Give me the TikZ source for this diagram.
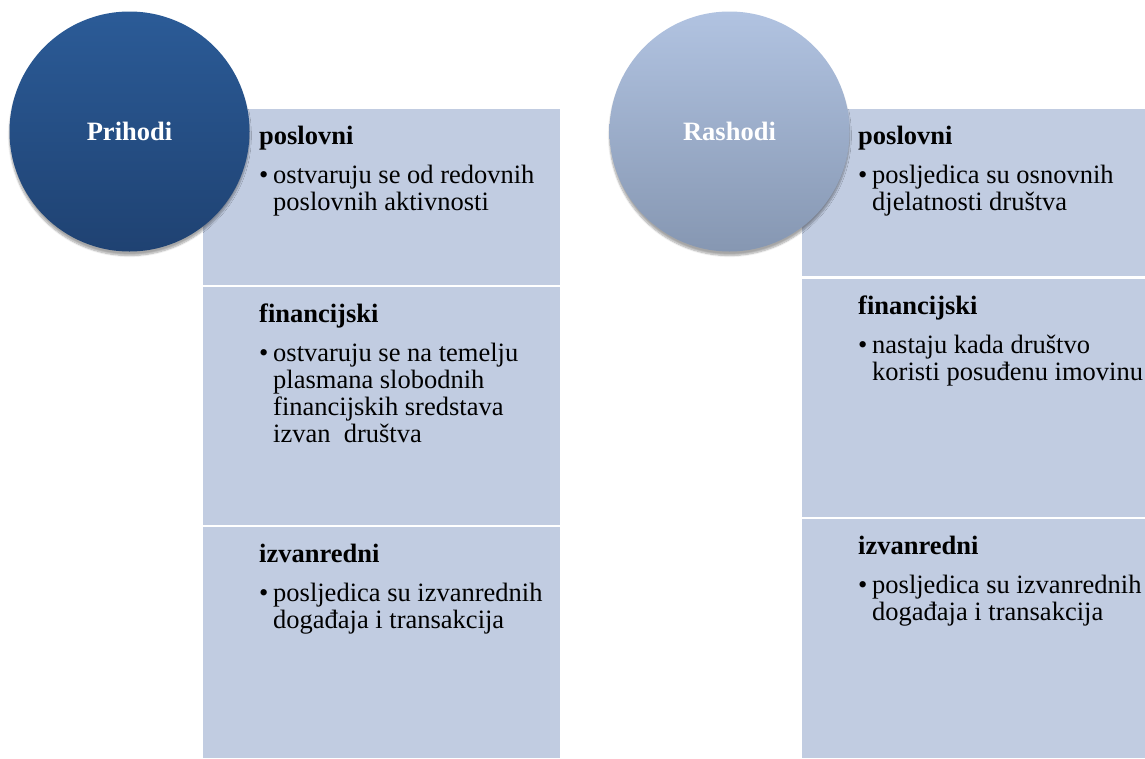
\documentclass[tikz,border=0pt]{standalone}
\usepackage{fontspec}
\setmainfont{Liberation Serif}
\usetikzlibrary{positioning,shadows.blur}
\definecolor{blokboja}{RGB}{193,204,225}
\definecolor{tamnogore}{RGB}{43,91,151}
\definecolor{tamnodolje}{RGB}{31,66,114}
\definecolor{svijetlogore}{RGB}{177,195,225}
\definecolor{svijetlodolje}{RGB}{134,151,178}
\newcommand{\velik}{\fontsize{26.5}{27}\selectfont}
\newcommand{\stavka}[1]{\makebox[14pt][l]{\textbullet}\begin{tabular}[t]{@{}l@{}}#1\end{tabular}}
\begin{document}
\begin{tikzpicture}[x=1pt,y=-1pt,
    blok/.style={fill=blokboja, inner sep=0pt, anchor=north west, minimum width=#1},
    krug/.style={circle, minimum size=240pt, inner sep=0pt, text=white, font=\bfseries\velik,
      blur shadow={shadow xshift=0pt, shadow yshift=-4pt, shadow blur steps=8, shadow opacity=35}},
    naslov/.style={anchor=base west, inner sep=0pt, font=\bfseries\velik, xshift=56pt, yshift=-35pt},
    tekst/.style={anchor=base west, inner sep=0pt, font=\velik, yshift=-39pt}]
  \useasboundingbox (0,0) rectangle (1145,758);

  % prihodi
  \node[blok=357pt, minimum height=176pt] (prihPosl) at (203,109) {};
  \node[blok=357pt, minimum height=238pt] (prihFin) at (203,287) {};
  \node[blok=357pt, minimum height=231pt] (prihIzv) at (203,527) {};
  \node[naslov] (prihPoslH) at (prihPosl.north west) {poslovni};
  \node[tekst] (prihPoslT) at (prihPoslH.base west) {\stavka{ostvaruju se od redovnih\\poslovnih aktivnosti}};
  \node[naslov] (prihFinH) at (prihFin.north west) {financijski};
  \node[tekst] (prihFinT) at (prihFinH.base west) {\stavka{ostvaruju se na temelju\\plasmana slobodnih\\financijskih sredstava\\izvan\ \ društva}};
  \node[naslov] (prihIzvH) at (prihIzv.north west) {izvanredni};
  \node[tekst] (prihIzvT) at (prihIzvH.base west) {\stavka{posljedica su izvanrednih\\događaja i transakcija}};
  \node[krug, top color=tamnogore, bottom color=tamnodolje] (prihodi) at (129.5,131.5) {Prihodi};

  % rashodi
  \node[blok=343pt, minimum height=167pt] (rashPosl) at (802,109) {};
  \node[blok=343pt, minimum height=238pt] (rashFin) at (802,279) {};
  \node[blok=343pt, minimum height=239pt] (rashIzv) at (802,519) {};
  \node[naslov] (rashPoslH) at (rashPosl.north west) {poslovni};
  \node[tekst] (rashPoslT) at (rashPoslH.base west) {\stavka{posljedica su osnovnih\\djelatnosti društva}};
  \node[naslov] (rashFinH) at (rashFin.north west) {financijski};
  \node[tekst] (rashFinT) at (rashFinH.base west) {\stavka{nastaju kada društvo\\koristi posuđenu imovinu}};
  \node[naslov] (rashIzvH) at (rashIzv.north west) {izvanredni};
  \node[tekst] (rashIzvT) at (rashIzvH.base west) {\stavka{posljedica su izvanrednih\\događaja i transakcija}};
  \node[krug, top color=svijetlogore, bottom color=svijetlodolje] (rashodi) at (729.5,131.5) {Rashodi};
\end{tikzpicture}
\end{document}
